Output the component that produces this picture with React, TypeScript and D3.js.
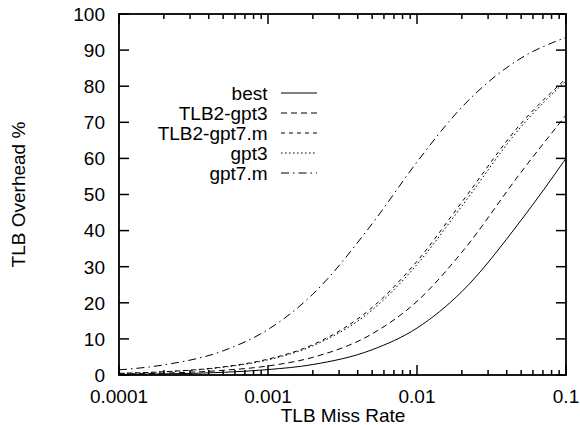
import React from 'react'
import { scaleLog, scaleLinear, line, curveMonotoneX } from 'd3'

// miss rate sample points (x) and overhead % per series
const missRates = [0.0001, 0.0002, 0.0005, 0.001, 0.002, 0.005, 0.01, 0.02, 0.05, 0.1]
const best = [0.15, 0.3, 0.74, 1.5, 2.9, 7.0, 13.0, 23.1, 42.9, 60.0]
const tlb2Gpt3 = [0.26, 0.51, 1.3, 2.5, 4.9, 11.4, 20.4, 34.0, 56.2, 72.0]
const tlb2Gpt7m = [0.46, 0.91, 2.25, 4.4, 8.4, 18.7, 31.5, 47.9, 69.7, 82.1]
const gpt3 = [0.44, 0.87, 2.15, 4.2, 8.1, 18.0, 30.6, 46.8, 68.8, 81.5]
const gpt7m = [1.42, 2.8, 6.7, 12.6, 22.4, 41.9, 59.0, 74.2, 87.8, 93.5]

const seriesNames = ['best', 'TLB2-gpt3', 'TLB2-gpt7.m', 'gpt3', 'gpt7.m']
const seriesValues = [best, tlb2Gpt3, tlb2Gpt7m, gpt3, gpt7m]
const dashes = ['none', '6,4', '4,4', '1.6,2.4', '8,4,1.5,4']

const xMajor = [0.0001, 0.001, 0.01, 0.1]
const xMajorLabels = ['0.0001', '0.001', '0.01', '0.1']
const yTicks = [0, 10, 20, 30, 40, 50, 60, 70, 80, 90, 100]

const L = 119, R = 566, T = 14, B = 375
const font = '"Liberation Sans", Arial, sans-serif'

export default function App() {
  const x = scaleLog().domain([0.0001, 0.1]).range([L, R])
  const y = scaleLinear().domain([0, 100]).range([B, T])

  const minor: number[] = []
  xMajor.slice(0, 3).forEach(d => {
    for (let k = 2; k <= 9; k++) minor.push(d * k)
  })

  const mkLine = line<[number, number]>()
    .x(d => x(d[0]))
    .y(d => y(d[1]))
    .curve(curveMonotoneX)

  return (
    <svg width={580} height={425} style={{ position: 'absolute', left: 0, top: 0 }}
      fontFamily={font} fontSize={19}>
      <rect width={580} height={425} fill="#fff" />

      {seriesValues.map((vals, i) => (
        <path key={i}
          d={mkLine(missRates.map((m, j) => [m, vals[j]]) as [number, number][]) || ''}
          fill="none" stroke="#000" strokeWidth={1}
          strokeDasharray={dashes[i]} />
      ))}

      {/* y ticks left + right */}
      {yTicks.map(t => (
        <g key={t}>
          <line x1={L} x2={L + 10} y1={y(t)} y2={y(t)} stroke="#000" strokeWidth={1.5} />
          <line x1={R} x2={R - 10} y1={y(t)} y2={y(t)} stroke="#000" strokeWidth={1.5} />
          <text x={105} y={y(t) + 6.8} textAnchor="end">{t}</text>
        </g>
      ))}

      {/* x ticks bottom + top */}
      {xMajor.map((t, i) => (
        <g key={t}>
          <line x1={x(t)} x2={x(t)} y1={B} y2={B - 10} stroke="#000" strokeWidth={1.5} />
          <line x1={x(t)} x2={x(t)} y1={T} y2={T + 10} stroke="#000" strokeWidth={1.5} />
          <text x={x(t)} y={403} textAnchor="middle">{xMajorLabels[i]}</text>
        </g>
      ))}
      {minor.map(t => (
        <g key={t}>
          <line x1={x(t)} x2={x(t)} y1={B} y2={B - 5} stroke="#000" strokeWidth={1.5} />
          <line x1={x(t)} x2={x(t)} y1={T} y2={T + 5} stroke="#000" strokeWidth={1.5} />
        </g>
      ))}

      <rect x={L} y={T} width={R - L} height={B - T} fill="none" stroke="#000" strokeWidth={1.8} />

      {/* legend */}
      {seriesNames.map((n, i) => {
        const ly = 93 + i * 20
        return (
          <g key={n}>
            <text x={267.5} y={ly + 6.8} textAnchor="end">{n}</text>
            <line x1={281} x2={317} y1={ly} y2={ly} stroke="#000" strokeWidth={1}
              strokeDasharray={dashes[i]} />
          </g>
        )
      })}

      <text x={343} y={422} textAnchor="middle">TLB Miss Rate</text>
      <text transform={`translate(25,${(T + B) / 2}) rotate(-90)`} textAnchor="middle">TLB Overhead %</text>
    </svg>
  )
}
